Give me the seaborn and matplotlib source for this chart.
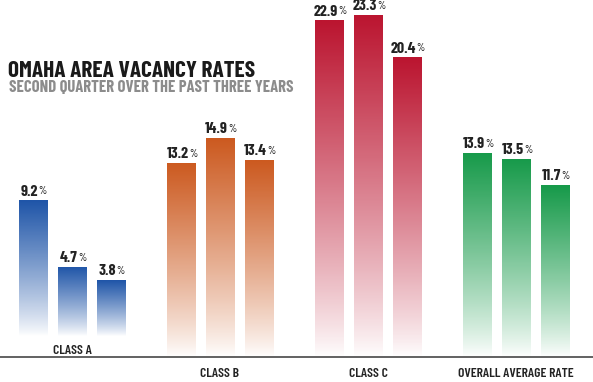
import numpy as np
import pandas as pd
import matplotlib
matplotlib.use("Agg")
import matplotlib.pyplot as plt
from matplotlib.colors import LinearSegmentedColormap
from matplotlib.transforms import blended_transform_factory
import seaborn as sns

categories = ["CLASS A", "CLASS B", "CLASS C", "OVERALL AVERAGE RATE"]
years = ["Year 1", "Year 2", "Year 3"]
year1 = [9.2, 13.2, 22.9, 13.9]
year2 = [4.7, 14.9, 23.3, 13.5]
year3 = [3.8, 13.4, 20.4, 11.7]
title = "OMAHA AREA VACANCY RATES"
subtitle = "SECOND QUARTER OVER THE PAST THREE YEARS"

top_colors = ["#1f55a8", "#cc5a20", "#bb1530", "#179a4a"]
A_LIFT = 1.45  # class A group drawn raised above the rule, as in the original

df = pd.DataFrame({
    "category": categories * 3,
    "year": [y for y in years for _ in categories],
    "rate": year1 + year2 + year3,
})

sns.set_theme(style="white")
FONT = ["Barlow Condensed", "DejaVu Sans"]
plt.rcParams["font.family"] = FONT

fig = plt.figure(figsize=(5.93, 3.82), dpi=100)
ax = fig.add_axes([0, 0, 1, 1])
sns.barplot(data=df, x="category", y="rate", hue="year", order=categories,
            hue_order=years, width=0.79, gap=0.28, legend=False, ax=ax)

ax.axis("off")

grad = np.linspace(0, 1, 256).reshape(-1, 1)
for cont in ax.containers:
    for bar, cat, col in zip(cont, categories, top_colors):
        if cat == "CLASS A":
            bar.set_y(bar.get_y() + A_LIFT)
        bar.set_facecolor("none")
        bar.set_edgecolor("none")
        x0 = bar.get_x(); w = bar.get_width()
        y0 = bar.get_y(); h = bar.get_height()
        cmap = LinearSegmentedColormap.from_list("g", ["#ffffff", col])
        im = ax.imshow(grad ** 0.85, cmap=cmap, origin="lower", aspect="auto",
                       extent=[x0, x0 + w, y0, y0 + h], vmin=0, vmax=1,
                       interpolation="bilinear", zorder=2)
        im.set_clip_path(bar)
        num = ax.annotate(f"{h:.1f}", xy=(x0 + w / 2, y0 + h), xytext=(-2.5, 1.2),
                          textcoords="offset points", ha="center", va="bottom",
                          fontsize=11.5, fontweight="bold", color="#222222",
                          family=FONT, zorder=5)
        ax.annotate("%", xy=(1, 0.88), xycoords=num, xytext=(0.4, 0),
                    textcoords="offset points", ha="left", va="top",
                    fontsize=7.5, fontweight="medium", color="#333333",
                    family=FONT, zorder=5)

ax.set_xlim(-0.486, 3.52)
ax.set_ylim(-1.70, 24.29)

# baseline rule
ax.axhline(0, color="#555555", lw=1.3, zorder=4)

# group labels
trans = blended_transform_factory(ax.transData, fig.transFigure)
for i, cat in enumerate(categories):
    ypix = 351.5 if cat == "CLASS A" else 374
    ax.text(i, 1 - ypix / 382, cat, transform=trans, ha="center", va="center",
            fontsize=9.8, fontweight="semibold", color="#222222",
            family=FONT, zorder=5)

fig.text(8 / 593, 1 - 71 / 382, title, ha="left", va="center",
         fontsize=16.8, fontweight="bold", color="#1a1a1a", family=FONT)
fig.text(9 / 593, 1 - 88 / 382, subtitle, ha="left", va="center",
         fontsize=12, fontweight="bold", color="#8c8c8c", family=FONT)

fig.savefig("out.png", dpi=100, facecolor="white")
